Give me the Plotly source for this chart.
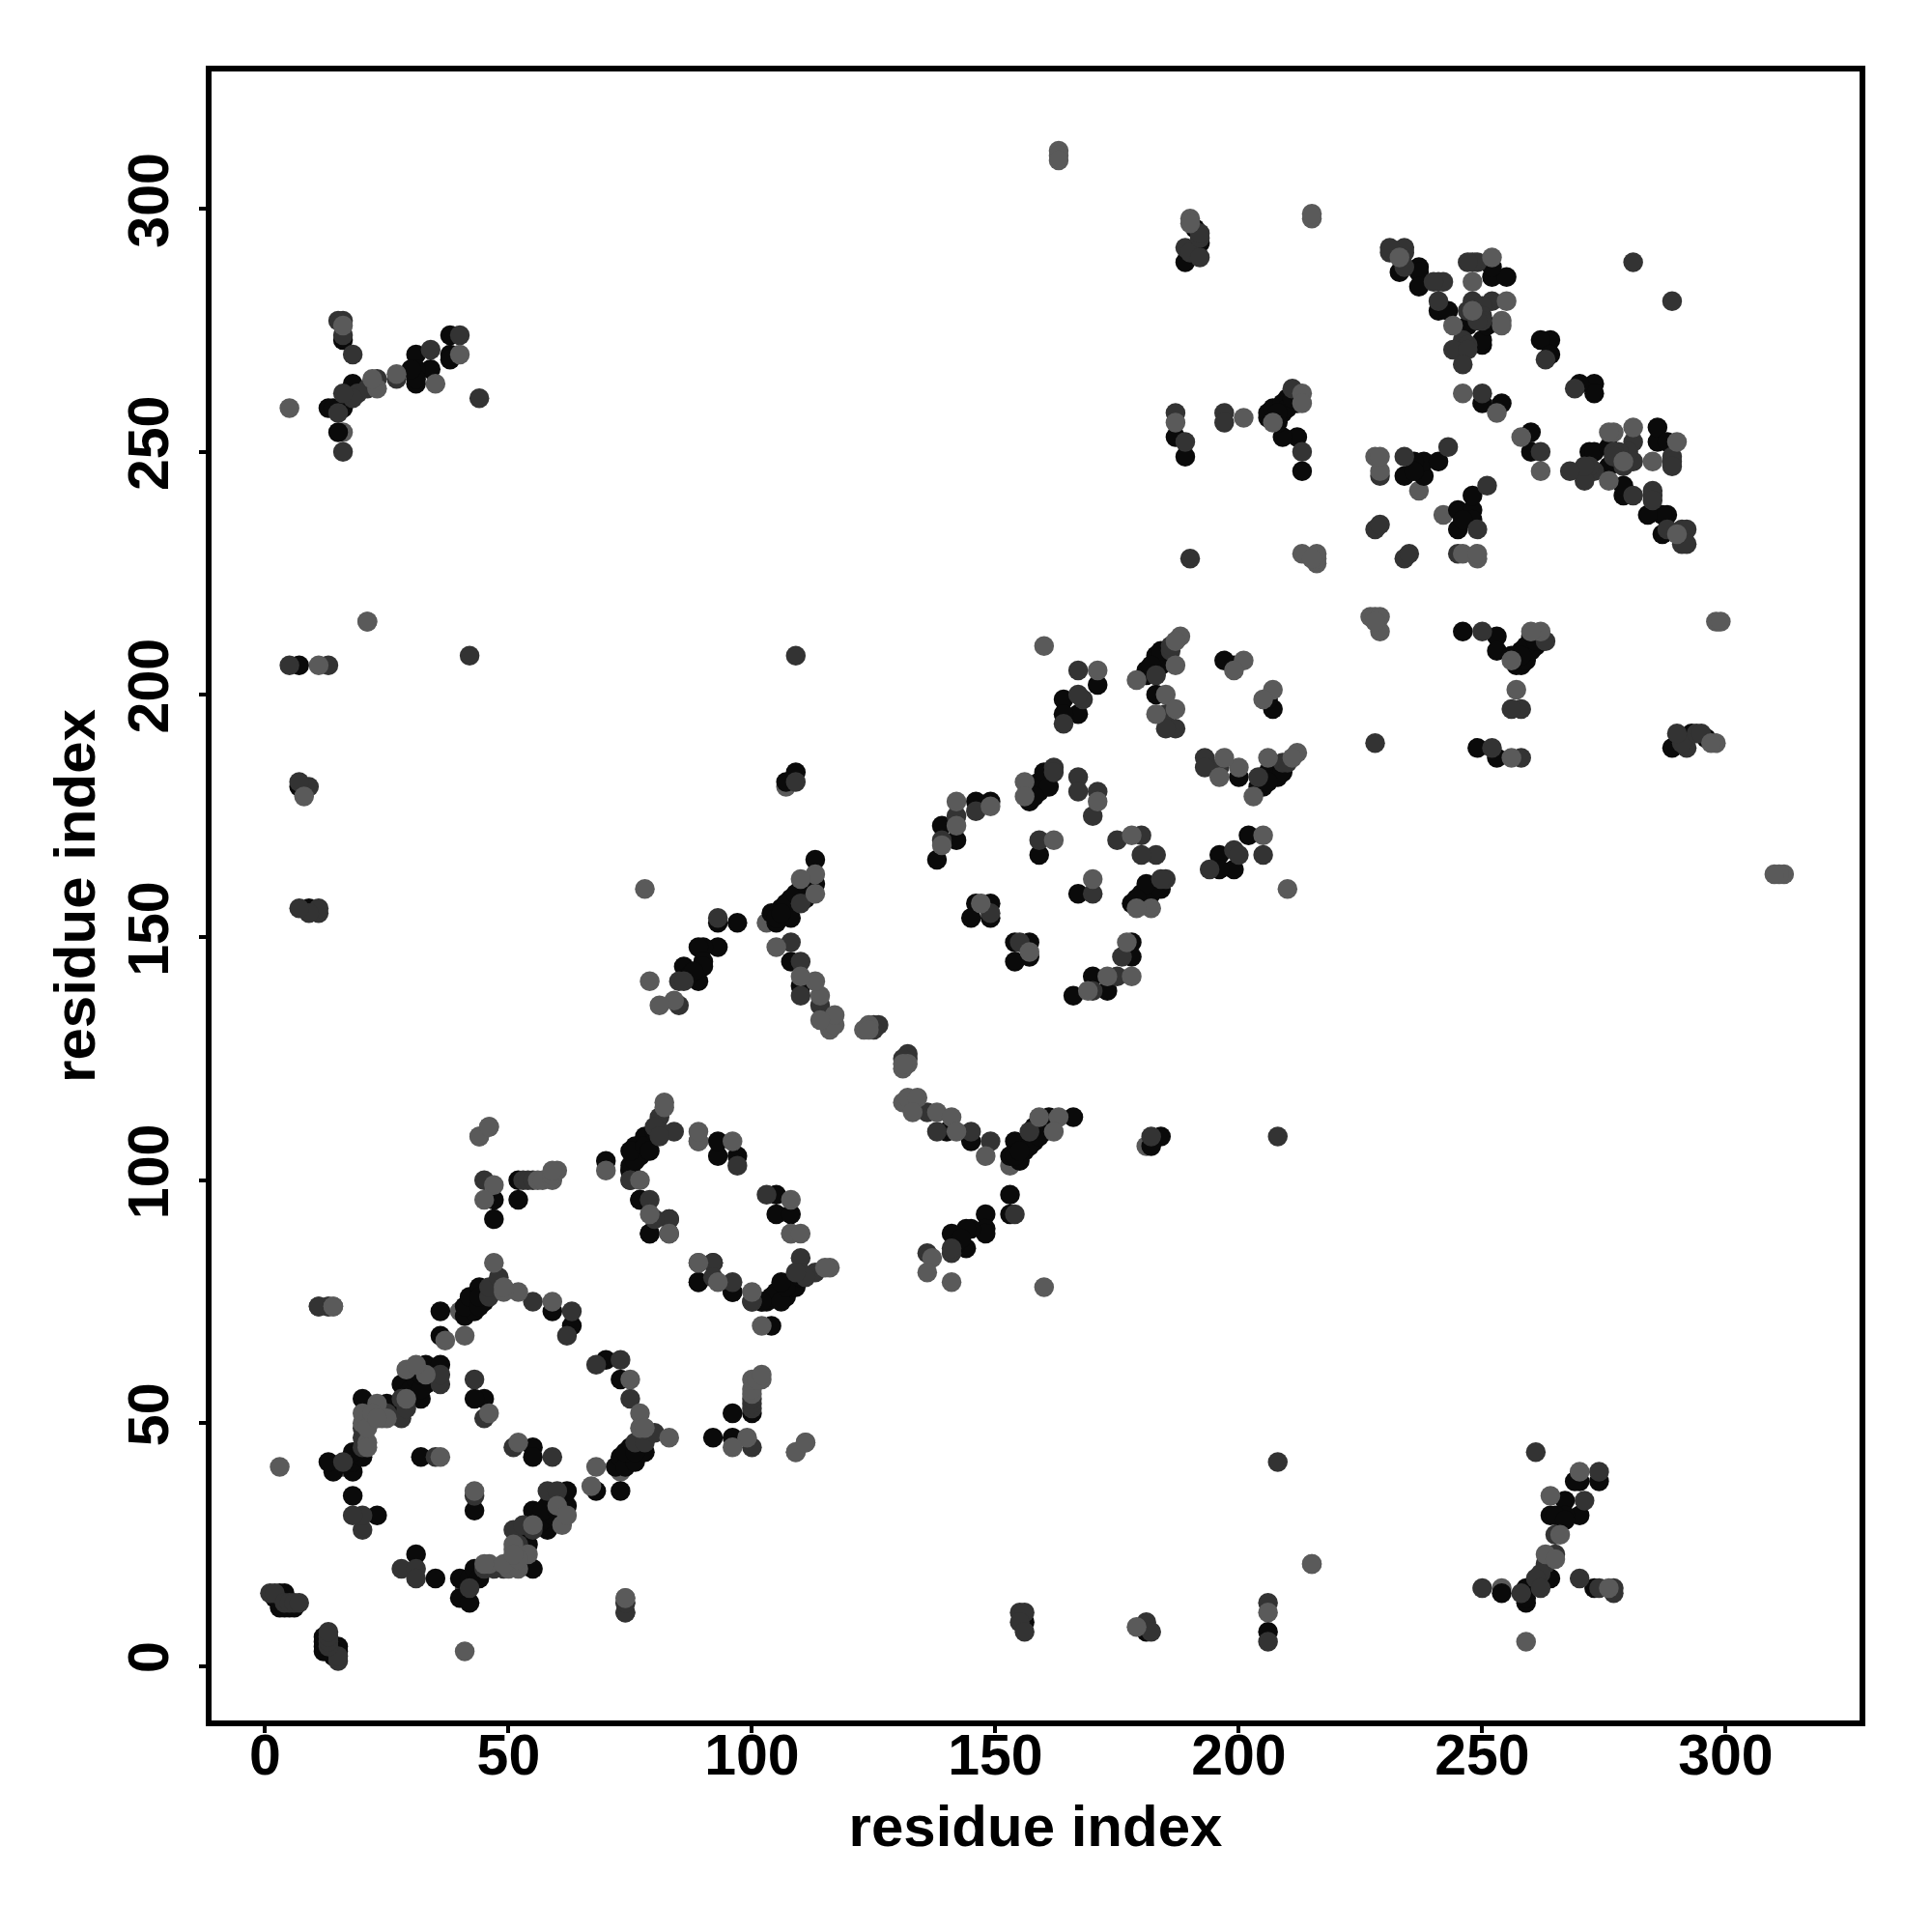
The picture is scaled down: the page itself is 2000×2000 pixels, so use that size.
import plotly.graph_objects as go

# Residue contacts, one (i, j) per contact; the map is symmetric, so each is drawn at both (i, j) and (j, i).
gray_under = [(73,40),(41,16),(89,108),(181,107),(153,103),(242,237),(249,228),(253,259),(254,16)]

dark = [(15,3),(15,4),(14,2),(14,3),(13,3),(12,3),(12,4),(12,5),(12,6),
(31,23),(35,18),(40,18),(40,14),(42,13),(44,19),(42,18),(43,20),(55,20),(54,25),(54,28),(55,32),(58,28),(58,32),(62,33),(62,36),
(56,29),(57,30),(58,33),(68,36),(73,36),(72,41),(73,43),(74,41),(75,45),(76,42),(73,59),(70,63),(55,45),(55,43),(43,32),
(77,44),(77,46),(74,44),(78,44),(76,44),(59,31),(60,34),(57,32),(60,32),(44,18),
(47,96),(47,92),(52,96),(52,100),(75,102),(77,96),(79,89),(83,92),(89,79),(96,77),(102,75),(105,97),(105,93),(108,93),(108,79),(107,76),(105,77),(103,75),(104,70),(109,78),
(104,76),(106,75),(107,78),(106,79),(110,80),
(153,97),(153,93),(148,93),(148,90),(148,89),(145,90),(144,90),(141,89),(144,86),(142,87),(143,88),(145,108),(140,110),(166,113),(161,113),(160,110),(158,108),(154,108),(156,106),(153,105),(155,104),(154,105),(184,109),(182,107),
(157,107),(159,109),(158,111),(155,106),
(183,160),(180,159),(178,157),(182,159),(181,158),(184,160),(181,161),(179,158),(167,159),(178,149),(178,146),(170,142),(173,139),(166,138),(157,149),(154,149),(157,146),(154,145),(202,171),(196,167),(199,164),(196,164),(208,185),(206,184),(205,182),(205,181),(200,183),(207,197),(206,199),
(207,183),(208,183),(209,184),(204,181),(206,182),
(288,237),(287,237),(284,237),(287,233),(279,241),(279,243),(286,252),(286,255),(288,252),(272,250),(273,250),(276,247),(276,251),(260,250),(260,254),(273,264),(273,262),(270,264),(245,238),(248,238),(248,241),(245,234),(248,236),(246,236),(246,213),(253,212),(253,209),(260,212),(261,210),(258,209),(257,208),(257,206),(258,206),(256,208),(259,207),(260,209),(259,210),(258,208),(261,211),(249,189),(253,187),
(274,38),(270,38),(269,38),(267,34),(270,31),(267,31),(264,31),(265,31),(267,30),(264,18),(259,16),(259,13),(259,14),(254,15),(273,16),(289,189),(293,192),(296,191),(181,7),(156,9),(206,7)]

mid = [(15,1),(15,2),(13,4),(13,5),(13,6),(13,7),(74,13),(74,11),(28,20),(31,20),(31,18),(42,16),(51,28),(58,36),(60,36),(76,46),(78,46),(80,48),(75,55),(73,63),(68,62),(51,45),(59,43),(43,35),(49,20),(47,20),(45,20),(52,25),(53,29),(55,28),
(45,100),(53,100),(54,100),(55,100),(75,100),(79,96),(89,83),(92,83),(92,80),(100,75),(103,97),(110,84),(113,81),(110,81),(111,80),(109,81),(11,74),(13,74),(154,93),(145,110),(149,108),(136,114),(138,110),(136,85),(141,85),(141,86),(157,110),(182,109),(208,109),(208,42),(125,132),(126,132),(125,131),
(185,162),(184,162),(183,167),(180,167),(180,171),(175,170),(170,159),(176,146),(175,142),(170,139),(155,149),(205,167),(199,168),(200,167),(194,164),(209,186),(210,186),(204,183),(196,185),(193,187),(193,185),
(291,234),(291,231),(292,234),(292,231),(288,234),(285,241),(285,242),(285,240),(281,241),(289,249),(289,248),(289,247),(281,252),(281,248),(280,250),(279,247),(278,250),(277,250),(277,249),(273,246),(272,247),(271,244),(271,247),(268,246),(262,250),(269,263),(289,281),(234,228),(235,229),(245,229),(251,243),(249,234),(250,213),(263,211),(258,197),(256,197),(258,187),(252,189),(228,190),
(261,44),(274,40),(271,34),(265,27),(265,23),(263,21),(262,19),(261,18),(262,16),(258,15),(250,16),(270,18),(274,16),(277,16),(277,15),(292,189),(291,190),(294,192),(295,192),(290,192),(155,11),(156,11),(155,9),(156,7),(181,9),(182,7),(206,13),(206,5)]

gray = [(41,3),(74,14),(46,21),(45,21),(50,20),(52,20),(51,24),(54,23),(49,21),(52,22),(55,29),(61,29),(51,25),(51,23),(60,33),(62,31),(67,37),(68,41),(83,47),(77,52),(75,59),(77,49),(78,49),(52,46),(43,36),
(47,99),(45,96),(56,100),(57,100),(59,100),(59,101),(60,102),(44,109),(46,111),(14,74),(100,77),(79,93),(83,89),(102,70),(102,59),(109,44),(111,46),(21,215),(108,96),(108,89),(110,89),(116,82),(115,82),
(131,116),(132,117),(134,117),(133,114),(138,114),(141,113),(142,110),(148,105),(163,113),(159,113),(162,110),(137,84),(136,81),(141,79),(160,78),(123,131),(124,132),(124,131),
(182,156),(179,156),(178,171),(170,162),(177,149),(178,142),(173,142),(169,139),(157,147),(205,171),(210,160),(212,188),(211,187),(206,187),(203,179),(200,185),(197,187),(196,183),(207,201),(205,199),
(290,233),(290,252),(285,248),(279,248),(281,255),(277,254),(276,254),(276,244),(262,246),(258,253),(246,229),(249,229),(227,216),(228,216),(229,216),(229,213),(228,215),(298,215),(299,215),(312,163),(311,163),(310,163),(262,213),(260,213),(257,201),(256,187),(259,5),
(270,40),(264,35),(266,27),(263,23),(265,22),(276,16),(298,190),(297,190),(179,8),(206,11),(215,21),(256,207)]

tick_values = [0, 50, 100, 150, 200, 250, 300]
axis_title = "residue index"

def both(pairs):
    return [p[0] for p in pairs] + [p[1] for p in pairs], [p[1] for p in pairs] + [p[0] for p in pairs]

fig = go.Figure()
for pairs, colour in [(gray_under, "#5a5a5a"), (dark, "#0a0a0a"), (mid, "#333333"), (gray, "#5a5a5a")]:
    xs, ys = both(pairs)
    fig.add_trace(go.Scatter(x=xs, y=ys, mode="markers", showlegend=False,
                             marker=dict(size=20.5, color=colour, line=dict(width=0))))

tick_font = dict(family="Liberation Sans", size=59, color="black", weight="bold")
title_font = dict(family="Liberation Sans", size=60, color="black", weight="bold")
common = dict(tickmode="array", tickvals=tick_values, ticks="outside", ticklen=7, tickwidth=4,
              tickcolor="black", showgrid=False, zeroline=False, showline=True, linecolor="black",
              linewidth=6, mirror=True, tickfont=tick_font, automargin=False)
fig.update_xaxes(range=[-11.0, 327.5], ticklabelstandoff=-28,
                 title=dict(text=axis_title, font=title_font, standoff=22), **common)
fig.update_yaxes(range=[-11.23, 328.3], tickangle=-90, ticklabelstandoff=8,
                 title=dict(text=axis_title, font=title_font, standoff=5), **common)
fig.update_layout(width=2000, height=2000, autosize=False, paper_bgcolor="white", plot_bgcolor="white",
                  margin=dict(l=210.5, r=83, t=65.9, b=226.5))
fig.write_html("out.html")
